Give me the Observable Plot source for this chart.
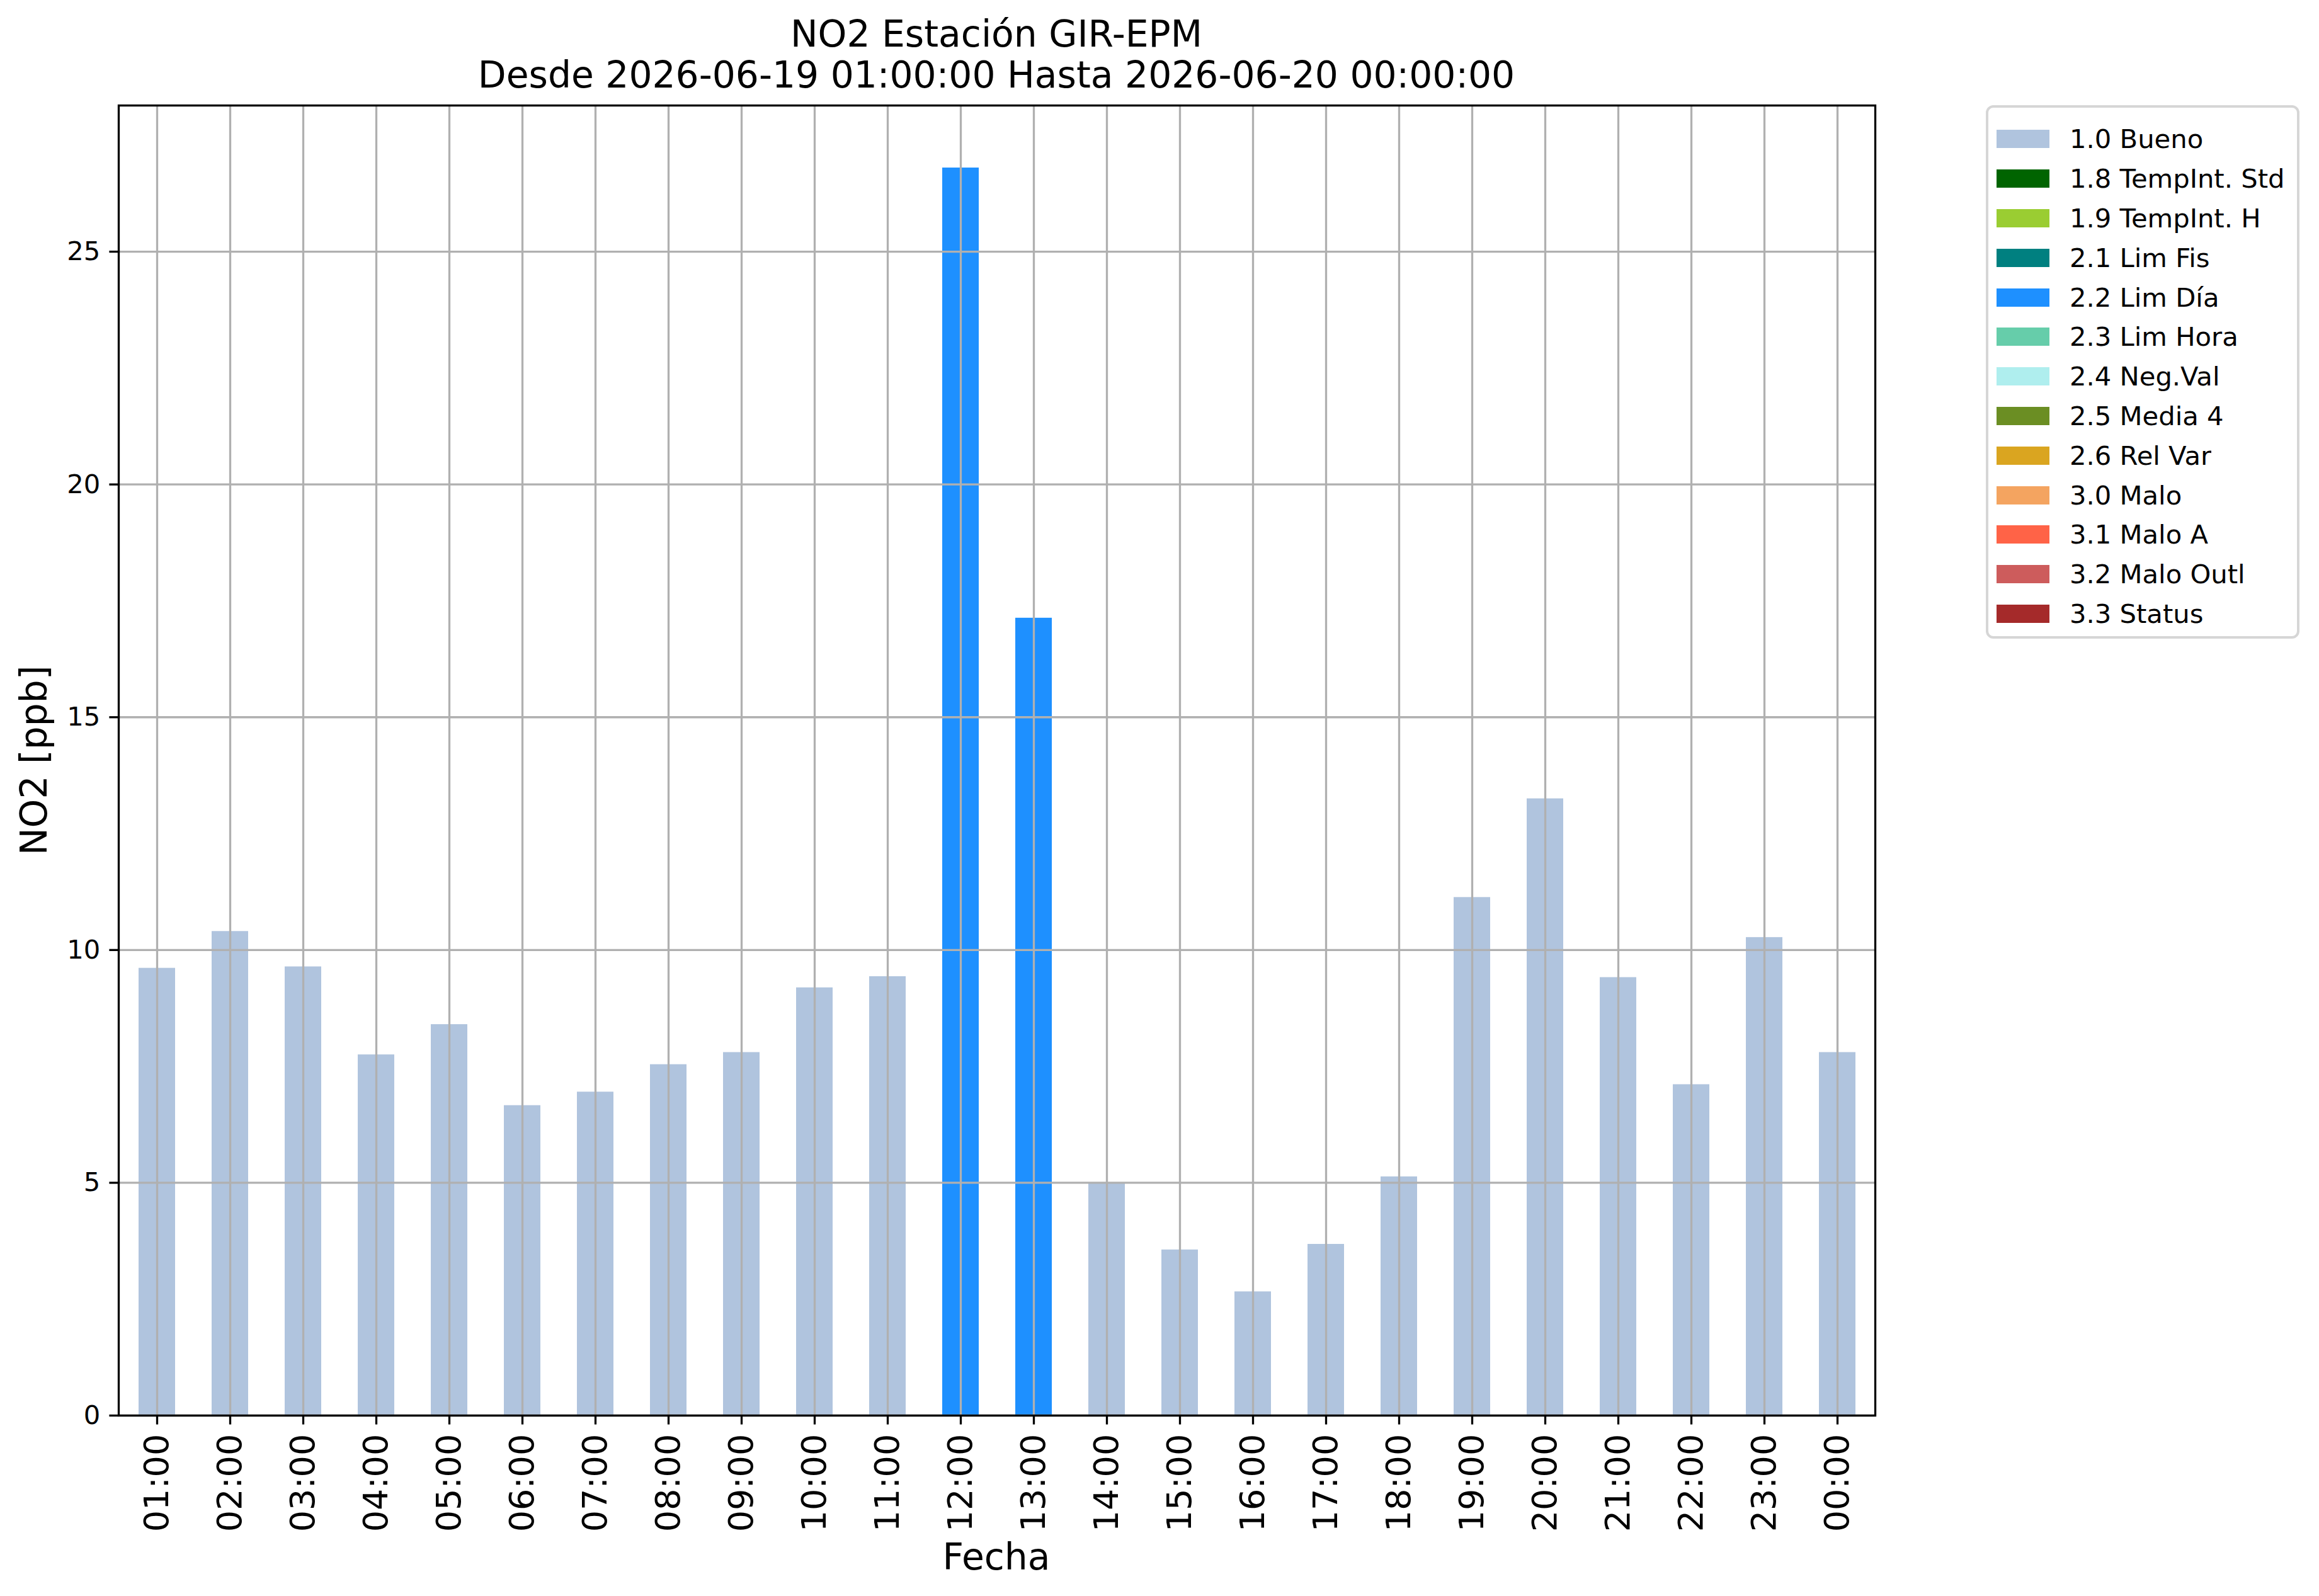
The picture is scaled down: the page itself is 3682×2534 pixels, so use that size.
<!DOCTYPE html>
<html><head><meta charset="utf-8">
<script src="https://cdn.jsdelivr.net/npm/d3@7"></script>
<script src="https://cdn.jsdelivr.net/npm/@observablehq/plot@0.6"></script>
<style>
html,body{margin:0;padding:0;background:#fff;}
#wrap{position:relative;width:3682px;height:2534px;overflow:hidden;font-family:"DejaVu Sans";color:#000;}
#wrap > svg{position:absolute;left:0;top:0;}
.title{position:absolute;left:0;width:3164px;top:22.3px;text-align:center;font-size:58.3px;line-height:65px;white-space:nowrap;}
.xlab{position:absolute;left:0;width:3164px;top:2442.7px;text-align:center;font-size:58.3px;line-height:58.3px;}
.ylab{position:absolute;left:-326px;top:1157.7px;width:800px;text-align:center;font-size:58.3px;line-height:58.3px;transform-origin:400px 49.3px;transform:rotate(-90deg);}
#legendbox{position:absolute;left:3153px;top:167px;width:498px;height:847px;box-sizing:border-box;border:4px solid #d6d6d6;border-radius:12px;padding:18.6px 0 0 13px;background:#fff;}
#legendbox *{font-family:"DejaVu Sans" !important;}
#legendbox > div{font-size:41.7px !important;margin:0 !important;}
#legendbox .lg-swatch{height:62.8px;padding-bottom:0 !important;margin:0 !important;display:flex;align-items:center;}
#legendbox .lg-swatch svg{margin-right:32px !important;flex:none;}
</style></head>
<body><div id="wrap"></div>
<script>
const hours = ["01:00","02:00","03:00","04:00","05:00","06:00","07:00","08:00","09:00","10:00","11:00","12:00",
               "13:00","14:00","15:00","16:00","17:00","18:00","19:00","20:00","21:00","22:00","23:00","00:00"];
const values = [9.61,10.40,9.64,7.75,8.40,6.66,6.95,7.54,7.80,9.19,9.43,26.80,
                17.13,5.00,3.56,2.66,3.68,5.13,11.13,13.25,9.41,7.11,10.27,7.80];
const flags = ["1.0 Bueno","1.0 Bueno","1.0 Bueno","1.0 Bueno","1.0 Bueno","1.0 Bueno","1.0 Bueno","1.0 Bueno",
               "1.0 Bueno","1.0 Bueno","1.0 Bueno","2.2 Lim Día","2.2 Lim Día","1.0 Bueno","1.0 Bueno","1.0 Bueno",
               "1.0 Bueno","1.0 Bueno","1.0 Bueno","1.0 Bueno","1.0 Bueno","1.0 Bueno","1.0 Bueno","1.0 Bueno"];
const legendLabels = ["1.0 Bueno","1.8 TempInt. Std","1.9 TempInt. H","2.1 Lim Fis","2.2 Lim Día","2.3 Lim Hora",
                      "2.4 Neg.Val","2.5 Media 4","2.6 Rel Var","3.0 Malo","3.1 Malo A","3.2 Malo Outl","3.3 Status"];
const legendColors = ["#B0C4DE","#006400","#9ACD32","#008080","#1E90FF","#66CDAA",
                      "#AFEEEE","#6B8E23","#DAA520","#F4A460","#FF6347","#CD5C5C","#A52A2A"];
const yTicks = [0,5,10,15,20,25];
const yMax = 28.14;
const titleText = "NO2 Estación GIR-EPM";
const subtitleText = "Desde 2026-06-19 01:00:00 Hasta 2026-06-20 00:00:00";
const xLabel = "Fecha";
const yLabel = "NO2 [ppb]";

const data = hours.map((h, i) => ({hour: h, value: values[i], flag: flags[i]}));
const wrap = document.getElementById("wrap");

const chart = Plot.plot({
  width: 3682, height: 2534,
  marginLeft: 188, marginRight: 705, marginTop: 167, marginBottom: 287,
  style: {fontFamily: "DejaVu Sans", background: "white", color: "black"},
  x: {domain: hours, paddingInner: 0.5, paddingOuter: 0.25, align: 0.5, label: null},
  y: {domain: [0, yMax], label: null},
  color: {domain: legendLabels, range: legendColors},
  marks: [
    Plot.barY(data, {x: "hour", y: "value", fill: "flag"}),
    Plot.gridX(hours, {stroke: "#b0b0b0", strokeOpacity: 1, strokeWidth: 3.3}),
    Plot.gridY(yTicks, {stroke: "#b0b0b0", strokeOpacity: 1, strokeWidth: 3.3}),
    Plot.frame({stroke: "black", strokeWidth: 3.3}),
    Plot.axisX({tickRotate: -90, fontSize: 54, tickSize: 14.6, tickPadding: 14.6, strokeWidth: 3.3, label: null}),
    Plot.axisY(yTicks, {fontSize: 41.7, tickSize: 14.6, tickPadding: 14.6, strokeWidth: 3.3, label: null, tickFormat: d => String(d)})
  ]
});
wrap.appendChild(chart);

const t = document.createElement("div");
t.className = "title";
t.innerHTML = titleText + "<br>" + subtitleText;
wrap.appendChild(t);

const xl = document.createElement("div");
xl.className = "xlab"; xl.textContent = xLabel; wrap.appendChild(xl);
const yl = document.createElement("div");
yl.className = "ylab"; yl.textContent = yLabel; wrap.appendChild(yl);

const lb = document.createElement("div");
lb.id = "legendbox";
lb.appendChild(Plot.legend({
  color: {type: "ordinal", domain: legendLabels, range: legendColors},
  legend: "swatches", columns: 1, swatchWidth: 84, swatchHeight: 29, className: "lg",
  style: {fontSize: "41.7px", fontFamily: "DejaVu Sans", color: "black"}
}));
wrap.appendChild(lb);
</script>
</body></html>
